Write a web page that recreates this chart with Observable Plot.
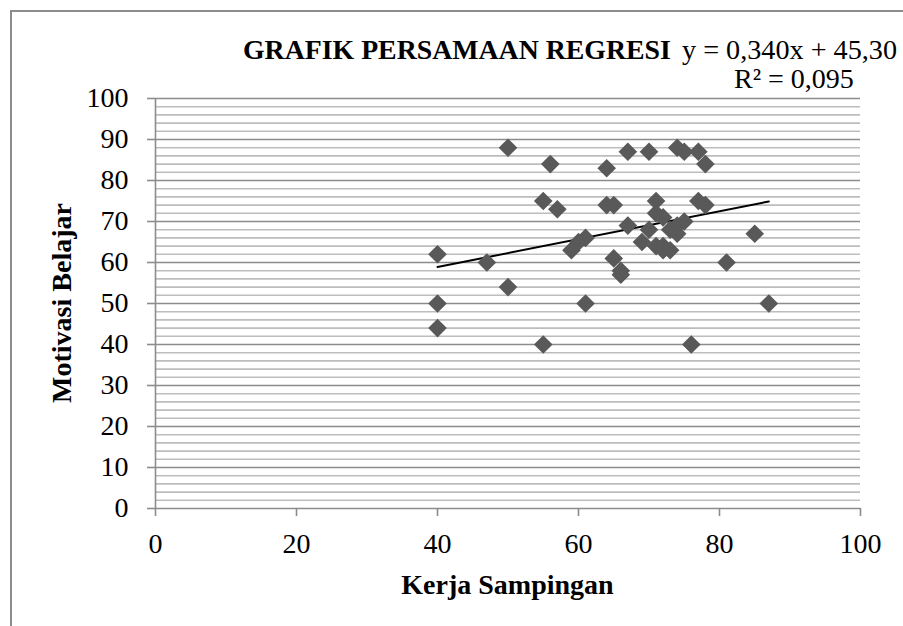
<!DOCTYPE html>
<html>
<head>
<meta charset="utf-8">
<script src="https://cdn.jsdelivr.net/npm/d3@7"></script>
<script src="https://cdn.jsdelivr.net/npm/@observablehq/plot@0.6"></script>
<style>
  html, body { margin: 0; padding: 0; background: #fff; }
  #wrap { position: relative; width: 903px; height: 626px; overflow: hidden; font-family: "Liberation Serif", "Times New Roman", serif; }
  #frame { position: absolute; left: 10px; top: 10px; width: 1000px; height: 1000px; border-left: 2px solid #8c8c8c; border-top: 2px solid #8c8c8c; box-sizing: border-box; }
  #chart { position: absolute; left: 0; top: 0; }
  #chart svg text { font-family: "Liberation Serif", "Times New Roman", serif; }
  #overlay { position: absolute; left: 0; top: 0; pointer-events: none; }
</style>
</head>
<body>
<div id="wrap">
  <div id="frame"></div>
  <div id="chart"></div>
  <svg id="overlay" width="903" height="626"></svg>
</div>
<script>
// Data
const kerjaSampingan = [40, 40, 40, 47, 50, 50, 55, 55, 56, 57, 59, 60, 61, 61, 64, 64, 65, 65, 66, 66, 67, 67, 69, 70, 70, 71, 71, 72, 71, 72, 73, 72, 74, 75, 77, 78, 77, 78, 75, 74, 73, 74, 76, 81, 85, 87];
const motivasiBelajar = [62, 50, 44, 60, 88, 54, 75, 40, 84, 73, 63, 65, 66, 50, 83, 74, 74, 61, 58, 57, 87, 69, 65, 87, 68, 75, 72, 71, 64, 64, 63, 63, 88, 87, 87, 84, 75, 74, 70, 69, 68, 67, 40, 60, 67, 50];
const slope = 0.340;
const intercept = 45.30;
const xTicks = [0, 20, 40, 60, 80, 100];
const yTicks = [0, 10, 20, 30, 40, 50, 60, 70, 80, 90, 100];
const yMinor = [2, 4, 6, 8, 12, 14, 16, 18, 22, 24, 26, 28, 32, 34, 36, 38, 42, 44, 46, 48, 52, 54, 56, 58, 62, 64, 66, 68, 72, 74, 76, 78, 82, 84, 86, 88, 92, 94, 96, 98];
const titleText = "GRAFIK PERSAMAAN REGRESI";
const equationText = "y = 0,340x + 45,30";
const r2Text = "R² = 0,095";
const xTitle = "Kerja Sampingan";
const yTitle = "Motivasi Belajar";

const points = kerjaSampingan.map((x, i) => ({x, y: motivasiBelajar[i]}));
const xMin = d3.min(kerjaSampingan), xMax = d3.max(kerjaSampingan);
const trend = [xMin, xMax].map(x => ({x, y: slope * x + intercept}));
const ff = '"Liberation Serif", "Times New Roman", serif';

const chart = Plot.plot({
  width: 903,
  height: 626,
  marginLeft: 155,
  marginRight: 43,
  marginTop: 98,
  marginBottom: 118,
  style: {fontFamily: ff, fontSize: "28px", color: "black", background: "transparent"},
  x: {domain: [0, 100]},
  y: {domain: [0, 100]},
  marks: [
    Plot.ruleY(yMinor, {stroke: "#bdbdbd", strokeWidth: 1.6}),
    Plot.ruleY(yTicks, {stroke: "#8c8c8c", strokeWidth: 1.6}),
    Plot.ruleX([0], {stroke: "#8c8c8c", strokeWidth: 1.6}),
    Plot.axisY({ticks: yTicks, tickSize: 8, tickPadding: 19, stroke: "#8c8c8c", strokeWidth: 1.6, fill: "black", label: null, fontSize: 28, fontFamily: ff}),
    Plot.axisX({ticks: xTicks, tickSize: 8, tickPadding: 17, stroke: "#8c8c8c", strokeWidth: 1.6, fill: "black", label: null, fontSize: 28, fontFamily: ff}),
    Plot.line(trend, {x: "x", y: "y", stroke: "black", strokeWidth: 2}),
    Plot.dot(points, {x: "x", y: "y", symbol: "diamond2", r: 8.4, fill: "#595959", stroke: "none"})
  ]
});
document.getElementById("chart").appendChild(chart);

const ov = d3.select("#overlay");
ov.append("text").attr("x", 243).attr("y", 59).attr("font-family", ff).attr("font-size", 27.8).attr("font-weight", "bold").text(titleText);
ov.append("text").attr("x", 682).attr("y", 59).attr("font-family", ff).attr("font-size", 28.2).text(equationText);
ov.append("text").attr("x", 734).attr("y", 88).attr("font-family", ff).attr("font-size", 28).text(r2Text);
ov.append("text").attr("x", 507.5).attr("y", 594).attr("text-anchor", "middle").attr("font-family", ff).attr("font-size", 28).attr("font-weight", "bold").text(xTitle);
ov.append("text").attr("transform", "translate(71,303) rotate(-90)").attr("text-anchor", "middle").attr("font-family", ff).attr("font-size", 28).attr("font-weight", "bold").text(yTitle);
</script>
</body>
</html>
